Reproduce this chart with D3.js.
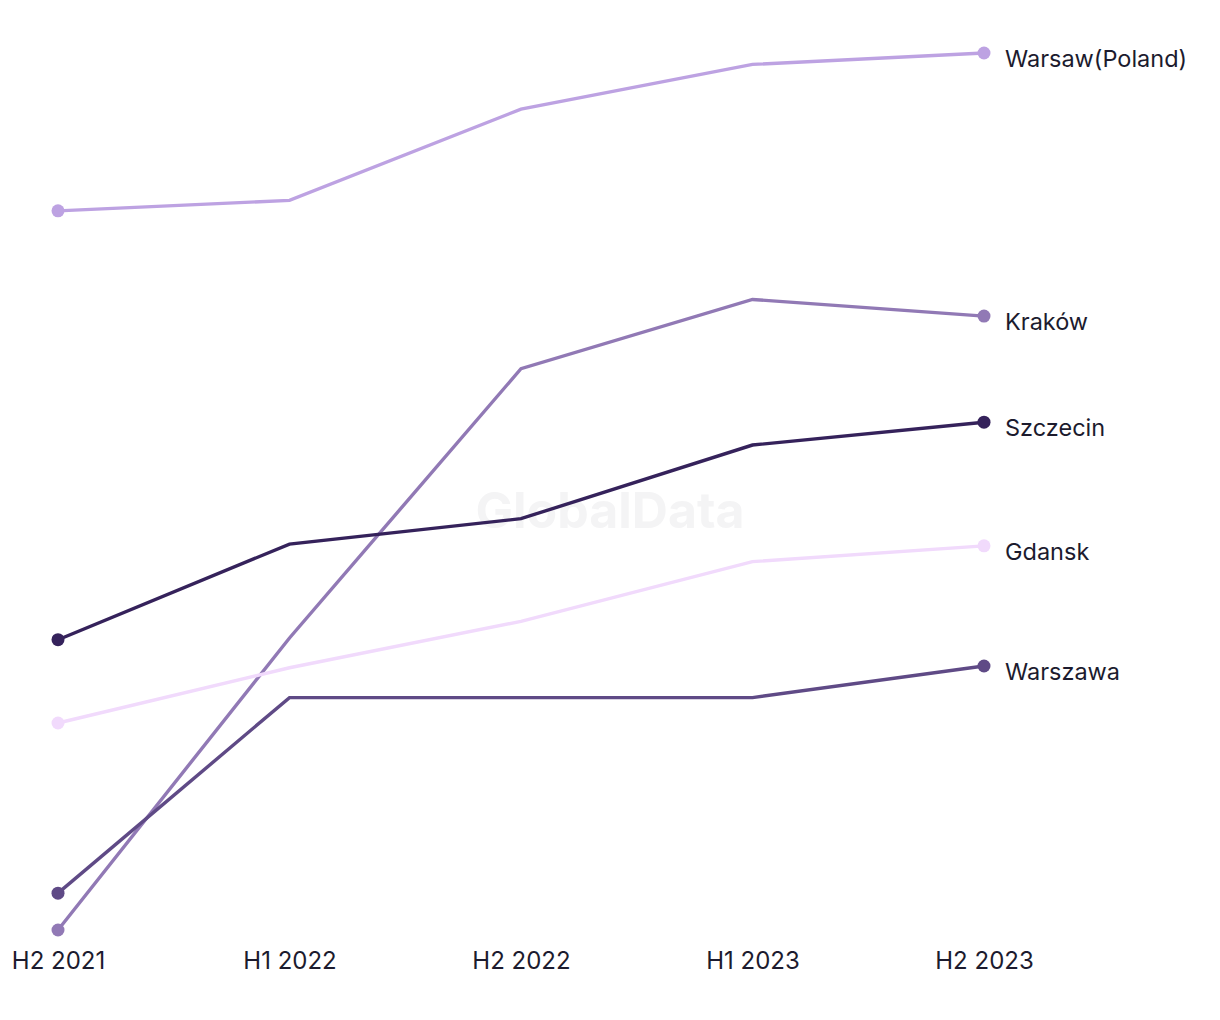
<!DOCTYPE html>
<html>
<head>
<meta charset="utf-8">
<script src="https://cdn.jsdelivr.net/npm/d3@7"></script>
<style>
  html, body { margin: 0; padding: 0; background: #ffffff; }
  svg { display: block; }
</style>
</head>
<body>
<svg id="chart" width="1220" height="1020"></svg>
<script>
const periods = ["H2 2021", "H1 2022", "H2 2022", "H1 2023", "H2 2023"];
const seriesNames = ["Warsaw(Poland)", "Kraków", "Szczecin", "Gdansk", "Warszawa"];
const warsawPoland = [82.0, 83.2, 93.6, 98.7, 100.0];
const krakow = [0.0, 33.3, 64.0, 71.9, 70.0];
const szczecin = [33.1, 44.0, 46.9, 55.3, 57.9];
const gdansk = [23.6, 29.9, 35.2, 42.0, 43.8];
const warszawa = [4.2, 26.5, 26.5, 26.5, 30.1];
const seriesColors = ["#bda2e2", "#9179b5", "#35225b", "#f1dafc", "#5f4a86"];

const seriesValues = [warsawPoland, krakow, szczecin, gdansk, warszawa];
const series = seriesNames.map((name, i) => ({ name, values: seriesValues[i], color: seriesColors[i] }));

const svg = d3.select("#chart");
const x = d3.scalePoint().domain(periods).range([58, 984]);
const y = d3.scaleLinear().domain([0, 100]).range([930, 53]);
const font = "Inter, 'Liberation Sans', sans-serif";

// watermark
svg.append("text")
  .attr("x", 610).attr("y", 528)
  .attr("text-anchor", "middle")
  .attr("font-family", font)
  .attr("font-weight", 700)
  .attr("font-size", 50)
  .attr("fill", "#f4f4f5")
  .text("GlobalData");

const line = d3.line().x((d, i) => x(periods[i])).y(d => y(d));

const g = svg.append("g");
series.forEach(s => {
  g.append("path")
    .attr("d", line(s.values))
    .attr("fill", "none")
    .attr("stroke", s.color)
    .attr("stroke-width", 3.4);
});
series.forEach(s => {
  [0, periods.length - 1].forEach(i => {
    g.append("circle")
      .attr("cx", x(periods[i]))
      .attr("cy", y(s.values[i]))
      .attr("r", 6.5)
      .attr("fill", s.color);
  });
  g.append("text")
    .attr("x", x(periods[periods.length - 1]) + 21)
    .attr("y", y(s.values[s.values.length - 1]) + 14)
    .attr("font-family", font)
    .attr("font-size", 23.5)
    .attr("fill", "#1c1b2e")
    .text(s.name);
});

const xAxis = d3.axisBottom(x).tickSize(0).tickPadding(0);
const ax = svg.append("g").attr("transform", "translate(0,952)").call(xAxis);
ax.select(".domain").remove();
ax.selectAll("text")
  .attr("font-family", font)
  .attr("font-size", 24)
  .attr("fill", "#1c1b2e")
  .attr("dy", "0.71em");
</script>
</body>
</html>
